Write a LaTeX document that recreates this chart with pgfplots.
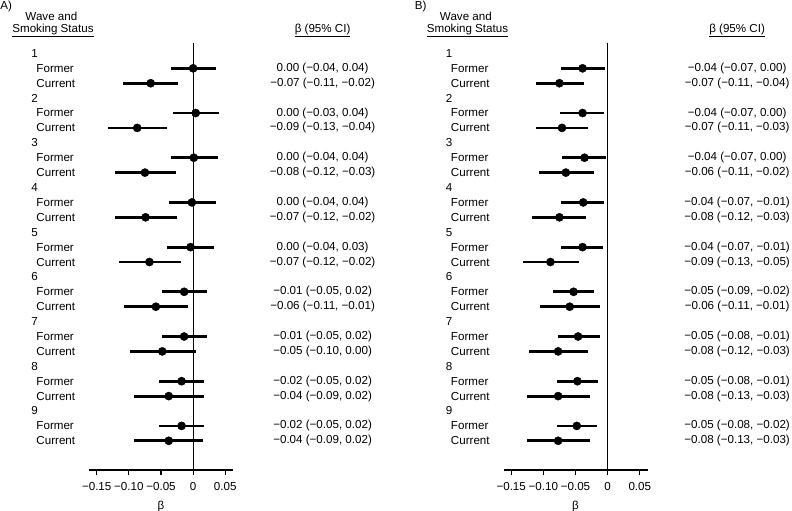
\documentclass[border=0pt]{standalone}
\usepackage{fontspec}
\setmainfont{Liberation Sans}
\usepackage{pgfplots}
\usepackage{pgfplotstable}
\pgfplotsset{compat=1.18}

% k = row index (0 = wave 1 header), est, lower, upper
\pgfplotstableread{
k est lo hi
1 0.000 -0.035 0.036
2 -0.066 -0.109 -0.023
4 0.004 -0.032 0.040
5 -0.087 -0.132 -0.041
7 0.001 -0.035 0.038
8 -0.075 -0.122 -0.027
10 -0.002 -0.037 0.035
11 -0.074 -0.122 -0.025
13 -0.004 -0.040 0.032
14 -0.068 -0.116 -0.019
16 -0.014 -0.049 0.022
17 -0.058 -0.108 -0.008
19 -0.014 -0.049 0.021
20 -0.048 -0.098 0.004
22 -0.018 -0.053 0.017
23 -0.038 -0.092 0.017
25 -0.018 -0.053 0.017
26 -0.038 -0.092 0.015
}\dataA

\pgfplotstableread{
k est lo hi
1 -0.039 -0.073 -0.004
2 -0.075 -0.112 -0.037
4 -0.039 -0.074 -0.005
5 -0.071 -0.111 -0.031
7 -0.036 -0.071 -0.002
8 -0.065 -0.107 -0.022
10 -0.038 -0.072 -0.005
11 -0.075 -0.118 -0.033
13 -0.039 -0.072 -0.007
14 -0.089 -0.132 -0.045
16 -0.053 -0.085 -0.021
17 -0.059 -0.106 -0.012
19 -0.046 -0.078 -0.012
20 -0.077 -0.123 -0.030
22 -0.047 -0.079 -0.015
23 -0.077 -0.125 -0.028
25 -0.048 -0.079 -0.016
26 -0.077 -0.125 -0.028
}\dataB

\pgfplotsset{
  forest/.style={
    scale only axis, width=144bp, height=427.3bp,
    xmin=-0.162, xmax=0.062, ymin=-0.72, ymax=27.96, y dir=reverse,
    axis x line*=bottom, axis y line=none,
    x axis line style={-, line width=1.2bp, black},
    xtick={-0.15,-0.1,-0.05,0,0.05},
    xticklabels={−0.15,−0.10,−0.05,0,0.05},
    tick align=outside, major tick length=4.5bp,
    tick style={line width=1.2bp, black},
    xticklabel style={yshift=-4bp},
    xlabel={β},
    xlabel style={yshift=-2.5bp},
    clip=false,
  },
}
\tikzset{
  lbl/.style={anchor=west, inner sep=0pt},
  ci/.style={anchor=center, inner sep=0pt},
}

\newcommand\leftlabels{%
  \node[lbl] at (axis cs:-0.252,0) {1};
  \node[lbl] at (axis cs:-0.252,3) {2};
  \node[lbl] at (axis cs:-0.252,6) {3};
  \node[lbl] at (axis cs:-0.252,9) {4};
  \node[lbl] at (axis cs:-0.252,12) {5};
  \node[lbl] at (axis cs:-0.252,15) {6};
  \node[lbl] at (axis cs:-0.252,18) {7};
  \node[lbl] at (axis cs:-0.252,21) {8};
  \node[lbl] at (axis cs:-0.252,24) {9};
  \node[lbl] at (axis cs:-0.244,1) {Former};
  \node[lbl] at (axis cs:-0.244,2) {Current};
  \node[lbl] at (axis cs:-0.244,4) {Former};
  \node[lbl] at (axis cs:-0.244,5) {Current};
  \node[lbl] at (axis cs:-0.244,7) {Former};
  \node[lbl] at (axis cs:-0.244,8) {Current};
  \node[lbl] at (axis cs:-0.244,10) {Former};
  \node[lbl] at (axis cs:-0.244,11) {Current};
  \node[lbl] at (axis cs:-0.244,13) {Former};
  \node[lbl] at (axis cs:-0.244,14) {Current};
  \node[lbl] at (axis cs:-0.244,16) {Former};
  \node[lbl] at (axis cs:-0.244,17) {Current};
  \node[lbl] at (axis cs:-0.244,19) {Former};
  \node[lbl] at (axis cs:-0.244,20) {Current};
  \node[lbl] at (axis cs:-0.244,22) {Former};
  \node[lbl] at (axis cs:-0.244,23) {Current};
  \node[lbl] at (axis cs:-0.244,25) {Former};
  \node[lbl] at (axis cs:-0.244,26) {Current};
  \node[ci] at (axis cs:-0.2205,-2.46) {Wave and};
  \node[ci] at (axis cs:-0.2180,-1.57) {\underline{Smoking Status}};
  \node[ci] at (axis cs:0.2014,-1.57) {\underline{β (95\% CI)}};
}

\newcommand\drawdata[1]{%
  \addplot[black, line width=1.2bp] coordinates {(0,-0.72) (0,27.96)};
  \addplot[only marks, mark=*, mark size=4.1bp, black,
    error bars/.cd, x dir=both, x explicit, error mark=none,
    error bar style={line width=2.8bp, black}]
    table[x=est, y=k, x error plus expr=\thisrow{hi}-\thisrow{est},
          x error minus expr=\thisrow{est}-\thisrow{lo}] {#1};
}

\begin{document}%
\fontsize{11.6bp}{13.5bp}\selectfont%
\begin{tikzpicture}
\useasboundingbox (0,0) rectangle (792bp,511bp);

% Panel A
\begin{axis}[forest, at={(89bp,41bp)}, anchor=south west]
  \drawdata{\dataA}
  \leftlabels
  \node[lbl] at (axis cs:-0.3002,-3.18) {A)};
  \node[ci] at (axis cs:0.2014,1) {0.00 (−0.04, 0.04)};
  \node[ci] at (axis cs:0.2014,2) {−0.07 (−0.11, −0.02)};
  \node[ci] at (axis cs:0.2014,4) {0.00 (−0.03, 0.04)};
  \node[ci] at (axis cs:0.2014,5) {−0.09 (−0.13, −0.04)};
  \node[ci] at (axis cs:0.2014,7) {0.00 (−0.04, 0.04)};
  \node[ci] at (axis cs:0.2014,8) {−0.08 (−0.12, −0.03)};
  \node[ci] at (axis cs:0.2014,10) {0.00 (−0.04, 0.04)};
  \node[ci] at (axis cs:0.2014,11) {−0.07 (−0.12, −0.02)};
  \node[ci] at (axis cs:0.2014,13) {0.00 (−0.04, 0.03)};
  \node[ci] at (axis cs:0.2014,14) {−0.07 (−0.12, −0.02)};
  \node[ci] at (axis cs:0.2014,16) {−0.01 (−0.05, 0.02)};
  \node[ci] at (axis cs:0.2014,17) {−0.06 (−0.11, −0.01)};
  \node[ci] at (axis cs:0.2014,19) {−0.01 (−0.05, 0.02)};
  \node[ci] at (axis cs:0.2014,20) {−0.05 (−0.10, 0.00)};
  \node[ci] at (axis cs:0.2014,22) {−0.02 (−0.05, 0.02)};
  \node[ci] at (axis cs:0.2014,23) {−0.04 (−0.09, 0.02)};
  \node[ci] at (axis cs:0.2014,25) {−0.02 (−0.05, 0.02)};
  \node[ci] at (axis cs:0.2014,26) {−0.04 (−0.09, 0.02)};
\end{axis}

% Panel B
\begin{axis}[forest, at={(503.5bp,41bp)}, anchor=south west]
  \drawdata{\dataB}
  \leftlabels
  \node[lbl] at (axis cs:-0.3002,-3.18) {B)};
  \node[ci] at (axis cs:0.2014,1) {−0.04 (−0.07, 0.00)};
  \node[ci] at (axis cs:0.2014,2) {−0.07 (−0.11, −0.04)};
  \node[ci] at (axis cs:0.2014,4) {−0.04 (−0.07, 0.00)};
  \node[ci] at (axis cs:0.2014,5) {−0.07 (−0.11, −0.03)};
  \node[ci] at (axis cs:0.2014,7) {−0.04 (−0.07, 0.00)};
  \node[ci] at (axis cs:0.2014,8) {−0.06 (−0.11, −0.02)};
  \node[ci] at (axis cs:0.2014,10) {−0.04 (−0.07, −0.01)};
  \node[ci] at (axis cs:0.2014,11) {−0.08 (−0.12, −0.03)};
  \node[ci] at (axis cs:0.2014,13) {−0.04 (−0.07, −0.01)};
  \node[ci] at (axis cs:0.2014,14) {−0.09 (−0.13, −0.05)};
  \node[ci] at (axis cs:0.2014,16) {−0.05 (−0.09, −0.02)};
  \node[ci] at (axis cs:0.2014,17) {−0.06 (−0.11, −0.01)};
  \node[ci] at (axis cs:0.2014,19) {−0.05 (−0.08, −0.01)};
  \node[ci] at (axis cs:0.2014,20) {−0.08 (−0.12, −0.03)};
  \node[ci] at (axis cs:0.2014,22) {−0.05 (−0.08, −0.01)};
  \node[ci] at (axis cs:0.2014,23) {−0.08 (−0.13, −0.03)};
  \node[ci] at (axis cs:0.2014,25) {−0.05 (−0.08, −0.02)};
  \node[ci] at (axis cs:0.2014,26) {−0.08 (−0.13, −0.03)};
\end{axis}
\end{tikzpicture}%
\end{document}
